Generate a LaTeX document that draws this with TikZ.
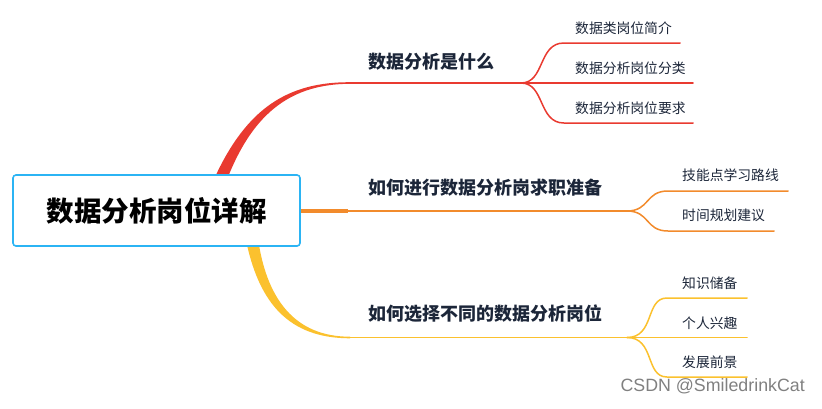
\documentclass[tikz,border=0pt]{standalone}
\usepackage{fontspec}
\setmainfont{Noto Sans CJK SC}
\newfontfamily\wmfont{Liberation Sans}
\usepackage{tikz}
\usetikzlibrary{arrows.meta,positioning,calc}

\definecolor{rootblue}{HTML}{2BB4F4}
\definecolor{redbr}{HTML}{E93A30}
\definecolor{orangebr}{HTML}{F28B2C}
\definecolor{yellowbr}{HTML}{FBC12E}
\definecolor{inktext}{HTML}{1C2639}

\begin{document}
\begin{tikzpicture}[
  x=1pt,y=-1pt,
  root/.style={draw=rootblue, line width=1.6pt, rounded corners=3pt, fill=white, minimum width=287pt, minimum height=71pt, inner sep=0pt, font=\fontsize{27.5}{30}\selectfont\bfseries, text=black},
  topic/.style={anchor=west, inner sep=0pt, font=\fontsize{18}{20}\selectfont\bfseries, text=inktext},
  leaf/.style={anchor=west, inner sep=0pt, font=\fontsize{13.8}{16}\selectfont, text=inktext},
  limb/.style={line width=1.7pt, line cap=round},
  twig/.style={line width=1.5pt, line cap=round}
]
\useasboundingbox (0,0) rectangle (822,408);

% trunk branches (tapered)
\fill[redbr] (215,177) .. controls (247,108) and (288,82) .. (350,82.2)
  -- (350,83.8) .. controls (292,84) and (254,112) .. (228,177) -- cycle;
\fill[yellowbr] (247,245) .. controls (260,302) and (288,338.3) .. (350,338.3)
  -- (350,336.7) .. controls (294,336.7) and (268,298) .. (259,245) -- cycle;
\fill[orangebr] (300,209.3) rectangle (348,212.7);

% root
\node[root] (root) at (156.5,210.5) {数据分析岗位详解};

% topics
\node[topic] (whatis) at (368,62) {数据分析是什么};
\node[topic] (prep) at (368,188) {如何进行数据分析岗求职准备};
\node[topic] (choose) at (368,314) {如何选择不同的数据分析岗位};

\coordinate (forkA) at (521,83);
\coordinate (forkB) at (627,211);
\coordinate (forkC) at (627,337.5);

\draw[limb, redbr] (349,83) -- (forkA);
\draw[limb, orangebr] (347,211) -- (forkB);
\draw[limb, yellowbr] (349,337.5) -- (forkC);

% leaves
\node[leaf] (intro) at (575,28) {数据类岗位简介};
\node[leaf] (types) at (575,68) {数据分析岗位分类};
\node[leaf] (reqs) at (575,108) {数据分析岗位要求};
\node[leaf] (skills) at (682,175) {技能点学习路线};
\node[leaf] (plan) at (682,215) {时间规划建议};
\node[leaf] (know) at (682,283) {知识储备};
\node[leaf] (interest) at (682,323) {个人兴趣};
\node[leaf] (future) at (682,362) {发展前景};

\draw[twig, redbr] (forkA) .. controls (545,83) and (538,43) .. (564,43) -- (680,43);
\draw[twig, redbr] (forkA) -- (693,83);
\draw[twig, redbr] (forkA) .. controls (545,83) and (538,123) .. (564,123) -- (693,123);
\draw[twig, orangebr] (forkB) .. controls (650,211) and (645,191) .. (668,191) -- (788,191);
\draw[twig, orangebr] (forkB) .. controls (650,211) and (645,231) .. (668,231) -- (774,231);
\draw[twig, yellowbr] (forkC) .. controls (655,337.5) and (645,298) .. (667,298) -- (747,298);
\draw[twig, yellowbr] (forkC) -- (747,337.5);
\draw[twig, yellowbr] (forkC) .. controls (655,337.5) and (645,377) .. (667,377) -- (747,377);

% watermark
\node[anchor=east, inner sep=0pt, font=\wmfont\fontsize{17.8}{20}\selectfont, text=black!50] (mark) at (805,386) {CSDN @SmiledrinkCat};
\end{tikzpicture}
\end{document}
